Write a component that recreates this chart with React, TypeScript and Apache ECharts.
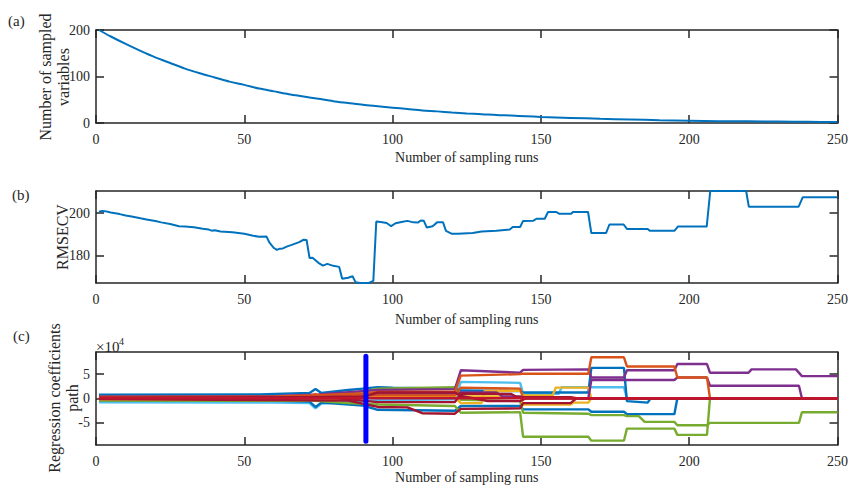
import React, { useEffect, useRef } from "react";
import * as echarts from "echarts";

// ---------- Data ----------
const xTicks = [0, 50, 100, 150, 200, 250];

// (a) number of sampled variables, read at sampled runs
const sampledRuns = [1, 5, 10, 15, 20, 25, 30, 35, 40, 45, 50, 55, 60, 65, 70, 75, 80, 85, 90, 95, 100, 105, 110, 115, 120, 125, 130, 135, 140, 145, 150, 160, 170, 180, 190, 200, 210, 220, 230, 240, 250];
const sampledCounts = [200, 186, 170, 155, 141, 129, 117, 107, 98, 89, 82, 74, 68, 62, 57, 52, 47, 43, 39, 36, 33, 30, 27, 25, 22.5, 20.5, 19, 17, 16, 14.5, 13, 11, 9, 7.5, 6, 5, 4, 3.5, 3, 2.5, 2];

// (b) RMSECV path [run, value]
const rmsecvPath = [
  [1, 200.6], [2, 201], [3, 200.9], [5, 200.3], [8, 199.5], [10, 198.8], [12, 198.4], [15, 197.5], [17, 197], [20, 196.2], [22, 195.6], [25, 194.8],
  [28, 193.8], [30, 193.6], [33, 193.3], [36, 192.6], [38, 192.2], [39, 191.7], [40, 191.9], [42, 191.3], [46, 190.9], [50, 190.2], [53, 189.3],
  [55, 188.8], [57.5, 188.9], [58.5, 186], [60, 183.5], [61, 182.6], [62, 183.2], [63, 183.3], [64.5, 184.3], [66, 185], [68.5, 186.3],
  [70, 187.4], [71, 187.3], [72, 178.8], [73, 178.9], [75, 176.5], [76.5, 175.2], [78, 176], [80, 175.1], [82, 174.6], [83, 169],
  [85, 169.5], [86.5, 170.2], [87.5, 167.4], [89, 167], [92, 167], [93.5, 168], [94.5, 196], [96, 195.8], [98, 195.3], [99.5, 193.8],
  [101, 195.2], [103, 195.8], [105, 196.3], [107, 195.6], [108.5, 195.5], [109.5, 196.5], [110.5, 196.4], [111.5, 193.2], [113.5, 193.8],
  [115, 195.6], [117, 195.6], [118, 191.6], [120, 190.2], [122, 190.2], [127, 190.6], [130, 191.3], [135, 191.6], [139.5, 192.2],
  [140.5, 193.4], [143, 193.4], [144, 196.3], [147.5, 196.4], [148.5, 197.3], [151.3, 197.3], [152.4, 200.5], [155.2, 200.5],
  [156.1, 199.7], [160.2, 199.7], [160.8, 200.5], [165.9, 200.5], [167, 190.6], [172, 190.6], [173.1, 194.6], [177.9, 194.6],
  [179, 192.5], [186, 192.5], [186.8, 191.6], [195, 191.6], [196.2, 193.6], [205.9, 193.6], [207.1, 210.4], [219.2, 210.4],
  [220.1, 203], [236.9, 203], [238.3, 207.5], [250, 207.5],
];

// (c) regression coefficient paths [run, value ×10^4]
const pathBlue1 = [[1, 0.75], [55, 0.8], [72, 1.1], [74, 1.9], [76, 1.1], [85, 1.7], [90, 2.0], [95, 2.3], [100, 2.2], [121, 2.0], [123, 1.6], [143, 1.5], [144, 1.2], [166, 1.2], [167, 6.3], [178, 6.3], [179, -0.6], [186, -0.9], [187, 0], [250, 0]];
const pathBlue2 = [[1, -0.4], [60, -0.5], [72, -0.7], [74, -1.8], [76, -0.9], [90, -1.5], [95, -2.4], [121, -2.6], [123, -1.6], [143, -1.6], [144, -2.3], [166, -2.3], [167, -2.8], [178, -2.8], [179, -3.3], [195, -3.3], [196, 0], [250, 0]];
const pathOrange1 = [[1, 0.25], [60, 0.35], [72, 0.6], [90, 1.0], [95, 1.3], [121, 1.4], [123, 4.7], [143, 5.0], [144, 5.1], [166, 5.1], [167, 8.5], [178, 8.5], [179, 6.6], [195, 6.6], [196, 4.3], [206, 4.3], [207, 0], [250, 0]];
const pathOrange2 = [[1, -0.1], [60, 0], [72, 0.3], [74, 0.9], [76, 0.2], [95, 0.6], [121, 0.6], [123, 2.2], [143, 2.0], [144, 0], [250, 0]];
const pathYellow1 = [[1, 0.1], [70, 0.2], [85, 0.9], [95, 1.1], [121, 1.1], [123, 0.4], [143, 0.4], [144, -1.3], [160, -1.3], [161, -0.9], [166, -0.9], [167, 0], [250, 0]];
const pathYellow2 = [[1, -0.2], [80, -0.3], [95, 0.2], [121, 0.3], [123, -1.0], [130, -1.0], [131, 1.5], [143, 1.6], [144, 0.6], [154, 0.6], [155, 2.2], [166, 2.2], [167, 0], [250, 0]];
const pathPurple1 = [[1, 0.35], [60, 0.45], [75, 0.8], [95, 1.7], [121, 1.9], [123, 5.8], [143, 5.3], [144, 5.9], [166, 6.0], [167, 4.3], [178, 4.3], [179, 5.8], [195, 5.8], [196, 7.1], [206, 7.1], [207, 5.3], [220, 5.3], [221, 6.0], [236, 6.0], [238, 4.6], [250, 4.6]];
const pathPurple2 = [[1, 0.1], [70, 0.2], [95, 0.9], [121, 1.0], [123, 1.2], [135, 1.2], [137, 0.4], [143, 0.4], [144, 0], [166, 0], [167, 3.8], [195, 3.8], [196, 4.3], [206, 4.3], [207, 2.6], [237, 2.6], [238, 0], [250, 0]];
const pathGreen1 = [[1, -0.25], [70, -0.35], [85, -1.0], [95, -1.3], [121, -1.6], [123, -3.0], [143, -2.9], [144, -8.0], [166, -8.0], [167, -8.8], [178, -8.8], [179, -6.3], [195, -6.3], [196, -7.6], [206, -7.6], [207, 0], [220, 0]];
const pathGreen2 = [[1, -0.5], [70, -0.55], [85, 0.8], [95, 2.0], [121, 2.3], [123, -0.3], [143, -0.6], [144, -3.0], [166, -3.2], [167, -3.5], [178, -3.5], [179, -3.7], [183, -3.7], [185, -4.9], [195, -4.9], [196, -5.6], [206, -5.6], [207, -5.1], [237, -5.1], [238, -2.9], [250, -2.9]];
const pathLightBlue = [[1, -0.85], [60, -0.9], [72, -1.0], [74, -2.1], [76, -1.1], [90, -0.6], [95, -0.4], [121, -0.2], [123, 3.4], [143, 3.2], [144, 0.9], [156, 0.9], [157, 2.3], [178, 2.3], [179, 0], [250, 0]];
const pathRed1 = [[1, 0.1], [80, 0.1], [95, -0.8], [121, -0.8], [123, 1.0], [140, 0.9], [142, 0.2], [160, 0.2], [162, 0], [250, 0]];
const pathRed2 = [[1, -0.15], [85, -0.5], [95, -1.8], [105, -1.9], [110, -3.1], [121, -3.2], [123, -2.2], [143, -2.1], [144, -1.0], [160, -1.0], [162, 0], [250, 0]];
const pathRed3 = [[1, 0], [90, 0.3], [95, 1.2], [121, 1.2], [123, 0.5], [130, -0.3], [132, -0.6], [143, -0.6], [145, 0], [250, 0]];
const pathZero = [[1, 0], [250, 0]];
const optimalRun = [[91, -8.9], [91, 8.7]];

const coefPaths = [
  { data: pathLightBlue, color: "#4DBEEE" },
  { data: pathBlue1, color: "#0072BD" },
  { data: pathBlue2, color: "#0072BD" },
  { data: pathGreen1, color: "#77AC30" },
  { data: pathGreen2, color: "#77AC30" },
  { data: pathYellow1, color: "#EDB120" },
  { data: pathYellow2, color: "#EDB120" },
  { data: pathPurple2, color: "#7E2F8E" },
  { data: pathPurple1, color: "#7E2F8E" },
  { data: pathOrange2, color: "#D95319" },
  { data: pathOrange1, color: "#D95319" },
  { data: pathRed1, color: "#A2142F" },
  { data: pathRed2, color: "#A2142F" },
  { data: pathRed3, color: "#A2142F" },
  { data: pathZero, color: "#C0142F" },
];

// ---------- Styling helpers ----------
const FONT = "Liberation Serif";
const INK = "#262626";
const LINE = { color: INK, width: 1.5 };

const grids = [
  { left: 96, top: 30, width: 742, height: 93 },
  { left: 96, top: 191, width: 742, height: 92 },
  { left: 96, top: 352, width: 742, height: 93 },
];
const nameGaps = [27, 29, 25];

function xAxesFor(i: number) {
  return [
    {
      gridIndex: i, type: "value", position: "bottom", min: 0, max: 250, interval: 50,
      axisLine: { show: true, onZero: false, lineStyle: LINE },
      axisTick: { show: true, inside: true, length: 8, lineStyle: LINE },
      axisLabel: { show: true, color: INK, fontFamily: FONT, fontSize: 14, margin: 9 },
      splitLine: { show: false },
      name: "Number of sampling runs", nameLocation: "middle", nameGap: nameGaps[i],
      nameTextStyle: { color: INK, fontFamily: FONT, fontSize: 14 },
    },
    {
      gridIndex: i, type: "value", position: "top", min: 0, max: 250, interval: 50,
      axisLine: { show: true, onZero: false, lineStyle: LINE },
      axisTick: { show: true, inside: true, length: 8, lineStyle: LINE },
      axisLabel: { show: false },
      splitLine: { show: false },
    },
  ];
}

function yAxesFor(i: number, min: number, max: number, ticks: number[]) {
  return [
    {
      gridIndex: i, type: "value", position: "left", min, max,
      axisLine: { show: true, onZero: false, lineStyle: LINE },
      axisTick: { show: true, inside: true, length: 8, lineStyle: LINE, customValues: ticks },
      axisLabel: { show: true, color: INK, fontFamily: FONT, fontSize: 14, margin: 6, customValues: ticks },
      splitLine: { show: false },
    },
    {
      gridIndex: i, type: "value", position: "right", min, max,
      axisLine: { show: true, onZero: false, lineStyle: LINE },
      axisTick: { show: true, inside: true, length: 8, lineStyle: LINE, customValues: ticks },
      axisLabel: { show: false, customValues: ticks },
      splitLine: { show: false },
    },
  ];
}

function txt(text: string, x: number, y: number, size: number, extra: any = {}) {
  return {
    type: "text", x, y, ...extra,
    style: { text, fill: INK, font: `${size}px "${FONT}"`, textVerticalAlign: "middle", ...(extra.style || {}) },
  };
}

export default function App() {
  const ref = useRef<HTMLDivElement>(null);
  useEffect(() => {
    if (!ref.current) return;
    const chart = echarts.init(ref.current, undefined, { renderer: "svg" });
    const series: any[] = [
      {
        type: "line", xAxisIndex: 0, yAxisIndex: 0, showSymbol: false, smooth: 0.3,
        data: sampledRuns.map((r, k) => [r, sampledCounts[k]]),
        lineStyle: { color: "#0072BD", width: 2 },
      },
      {
        type: "line", xAxisIndex: 2, yAxisIndex: 2, showSymbol: false,
        data: rmsecvPath, lineStyle: { color: "#0072BD", width: 2 },
      },
      ...coefPaths.map((p) => ({
        type: "line", xAxisIndex: 4, yAxisIndex: 4, showSymbol: false,
        data: p.data, lineStyle: { color: p.color, width: 2.4 },
      })),
      {
        type: "line", xAxisIndex: 4, yAxisIndex: 4, showSymbol: false,
        data: optimalRun, lineStyle: { color: "#0000FF", width: 5, cap: "round" },
      },
    ];
    chart.setOption({
      animation: false,
      backgroundColor: "#ffffff",
      grid: grids,
      xAxis: [...xAxesFor(0), ...xAxesFor(1), ...xAxesFor(2)],
      yAxis: [
        ...yAxesFor(0, 0, 200, [0, 100, 200]),
        ...yAxesFor(1, 167, 210.4, [180, 200]),
        ...yAxesFor(2, -9.7, 9.6, [-5, 0, 5]),
      ],
      series,
      graphic: [
        txt("(a)", 8, 21, 15),
        txt("(b)", 12, 195, 15),
        txt("(c)", 13, 336, 15),
        txt("Number of sampled\nvariables", 54, 77, 16, { rotation: Math.PI / 2, style: { textAlign: "center", lineHeight: 18 } }),
        txt("RMSECV", 62, 237, 16, { rotation: Math.PI / 2, style: { textAlign: "center" } }),
        txt("Regression coefficients\npath", 63, 398, 16, { rotation: Math.PI / 2, style: { textAlign: "center", lineHeight: 18 } }),
        txt("×10", 96, 347, 15),
        txt("4", 119, 341, 10),
      ],
    });
    return () => chart.dispose();
  }, []);
  return (
    <div
      ref={ref}
      style={{ position: "fixed", left: 0, top: 0, width: 851, height: 486, background: "#fff" }}
    />
  );
}
